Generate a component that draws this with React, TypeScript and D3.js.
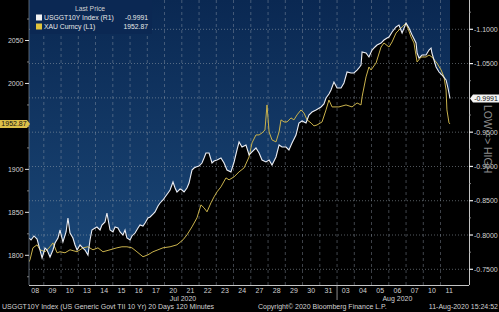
import React from "react";
import * as d3 from "d3";

const W = 499;
const H = 312;

// x positions are in trading-day units (day slot i spans [i, i+1])
const dayLabels = ["08","09","10","13","14","15","16","17","20","21","22","23","24","27","28","29","30","31","03","04","05","06","07","10","11"];
const monthLabels = ["Jul 2020", "Aug 2020"];
const monthStarts = [0, 18];

const leftTicks = [1800, 1850, 1900, 2000, 2050];
const leftMinor = [1775, 1825, 1875, 1925, 1950, 1975, 2025, 2075];
const rightTicks = [-1.1, -1.05, -0.95, -0.9, -0.85, -0.8, -0.75];
const rightGrid = [-1.1, -1.05, -1.0, -0.95, -0.9, -0.85, -0.8, -0.75];
const rightMinor = [-1.125, -1.075, -1.025, -0.975, -0.925, -0.875, -0.825, -0.775];

// USGGT10Y Index (R1)
const whiteT = [0.14,0.26,0.43,0.61,0.78,0.90,1.07,1.19,1.36,1.53,1.65,1.82,1.94,2.11,2.29,2.40,2.52,2.69,2.81,2.93,3.10,3.27,3.39,3.56,3.68,3.79,3.97,4.08,4.26,4.37,4.55,4.66,4.84,5.01,5.13,5.30,5.42,5.59,5.71,5.82,6.00,6.11,6.29,6.46,6.58,6.75,6.87,7.04,7.16,7.33,7.45,7.62,7.74,7.91,8.03,8.20,8.32,8.49,8.61,8.72,8.90,9.01,9.13,9.30,9.42,9.59,9.71,9.82,10.00,10.17,10.29,10.40,10.58,10.75,10.87,11.04,11.27,11.45,11.62,11.85,12.03,12.20,12.32,12.49,12.72,12.90,13.07,13.30,13.48,13.65,13.88,14.06,14.23,14.46,14.64,14.81,15.04,15.21,15.39,15.62,15.79,15.97,16.20,16.37,16.55,16.78,17.07,17.24,17.36,17.53,17.65,17.82,18.00,18.23,18.40,18.58,18.81,18.98,19.16,19.27,19.39,19.45,19.68,19.85,20.03,20.20,20.32,20.55,20.72,20.90,21.01,21.19,21.42,21.59,21.77,22.00,22.17,22.35,22.58,22.64,22.75,22.93,23.16,23.33,23.45,23.50,23.74,23.91,24.08,24.32,24.43,24.55];
const whiteV = [-0.7956,-0.7927,-0.7986,-0.7942,-0.7781,-0.7665,-0.7810,-0.7781,-0.7679,-0.7781,-0.7883,-0.7956,-0.8073,-0.7898,-0.8044,-0.8248,-0.8029,-0.7956,-0.7854,-0.7781,-0.7854,-0.7810,-0.7781,-0.7708,-0.7927,-0.8073,-0.8102,-0.8117,-0.8073,-0.8146,-0.8190,-0.8321,-0.8073,-0.8044,-0.8117,-0.8102,-0.8044,-0.8000,-0.8073,-0.7956,-0.7927,-0.7986,-0.8029,-0.8102,-0.8146,-0.8131,-0.8175,-0.8248,-0.8263,-0.8306,-0.8336,-0.8423,-0.8467,-0.8511,-0.8554,-0.8613,-0.8656,-0.8773,-0.8686,-0.8627,-0.8671,-0.8656,-0.8627,-0.8686,-0.8758,-0.8948,-0.8977,-0.8992,-0.9006,-0.9050,-0.9123,-0.9196,-0.9196,-0.9050,-0.9079,-0.9094,-0.9123,-0.9050,-0.8948,-0.8919,-0.9065,-0.9240,-0.9356,-0.9283,-0.9313,-0.9167,-0.9211,-0.9269,-0.9196,-0.9094,-0.9065,-0.9094,-0.9021,-0.9138,-0.9313,-0.9283,-0.9283,-0.9240,-0.9342,-0.9458,-0.9633,-0.9663,-0.9633,-0.9750,-0.9794,-0.9823,-0.9867,-0.9911,-0.9998,-1.0056,-1.0115,-1.0231,-1.0144,-1.0144,-1.0217,-1.0377,-1.0363,-1.0363,-1.0406,-1.0436,-1.0479,-1.0669,-1.0654,-1.0596,-1.0698,-1.0742,-1.0771,-1.0800,-1.0844,-1.0873,-1.0888,-1.0961,-1.1034,-1.1063,-1.0946,-1.1092,-1.1019,-1.0917,-1.0800,-1.0654,-1.0581,-1.0625,-1.0625,-1.0698,-1.0727,-1.0654,-1.0450,-1.0377,-1.0334,-1.0261,-1.0144,-0.9991];

// XAU Curncy (L1)
const goldT = [0.14,0.20,0.37,0.61,0.78,1.07,1.36,1.53,1.77,1.94,2.23,2.52,2.93,3.27,3.56,3.85,4.14,4.43,4.84,5.24,5.53,5.82,6.11,6.40,6.75,7.04,7.33,7.62,7.91,8.32,8.72,9.07,9.30,9.59,9.88,10.11,10.29,10.46,10.69,10.87,11.04,11.27,11.56,11.74,12.03,12.32,12.61,12.90,13.07,13.30,13.48,13.65,13.82,13.94,14.06,14.23,14.46,14.64,14.75,14.93,15.10,15.33,15.50,15.68,15.91,16.08,16.26,16.49,16.66,16.84,17.13,17.36,17.53,17.71,17.94,18.11,18.52,18.87,19.16,19.39,19.45,19.68,19.85,19.97,20.26,20.55,20.72,21.01,21.19,21.42,21.59,21.77,22.00,22.29,22.46,22.64,22.87,23.16,23.33,23.50,23.79,24.03,24.20,24.32,24.37,24.49,24.55];
const goldV = [1792.4,1794.8,1808.7,1812.2,1806.4,1804.1,1809.9,1814.5,1802.9,1804.1,1802.9,1806.4,1804.1,1808.7,1809.9,1806.4,1808.7,1804.1,1806.4,1808.7,1809.9,1809.9,1808.7,1804.1,1798.3,1800.6,1804.1,1806.4,1808.7,1809.9,1812.2,1818.0,1823.8,1833.1,1843.6,1858.7,1855.2,1850.6,1861.0,1868.0,1873.8,1879.7,1890.1,1887.8,1891.3,1897.1,1901.7,1914.5,1930.8,1940.1,1940.1,1942.4,1945.9,1975.0,1943.6,1934.3,1932.0,1943.6,1957.6,1955.2,1955.2,1959.9,1957.6,1963.4,1969.2,1965.7,1957.6,1954.1,1950.6,1951.7,1955.2,1969.2,1980.8,1972.7,1972.7,1972.7,1975.0,1972.7,1977.3,1975.0,1984.3,2007.6,2019.2,2015.7,2023.8,2042.4,2047.1,2042.4,2048.3,2058.7,2062.2,2065.7,2070.3,2054.1,2047.1,2025.0,2030.8,2030.8,2033.1,2030.8,2023.8,2015.7,2007.6,1992.4,1969.2,1954.1,1952.87];

const legendTitle = "Last Price";
const seriesNames = ["USGGT10Y Index  (R1)", "XAU Curncy  (L1)"];
const footerLeft = "USGGT10Y Index (US Generic Govt TII 10 Yr) 20 Days 120 Minutes";
const footerMid = "Copyright\u00A9 2020 Bloomberg Finance L.P.";
const footerRight = "11-Aug-2020 15:24:52";

export default function App() {
  const PL = 29, PR = 469, PT = 0, PB = 285;
  const x = d3.scaleLinear().domain([0, 25]).range([26.55, 457.8]);
  const yL = d3.scaleLinear().domain([1800, 2050]).range([255.3, 40.5]);
  const yR = d3.scaleLinear().domain([-1.1, -0.75]).range([29.3, 269.3]);

  const idxW = whiteT.map((_, i) => i);
  const idxG = goldT.map((_, i) => i);
  const blueArea = d3.area<number>().x(i => x(whiteT[i])).y0(PT).y1(i => yR(whiteV[i]))(idxW) || "";
  const whiteLine = d3.line<number>().x(i => x(whiteT[i])).y(i => yR(whiteV[i]))(idxW) || "";
  const goldLine = d3.line<number>().x(i => x(goldT[i])).y(i => yL(goldV[i]))(idxG) || "";

  const font = "'Liberation Sans', Arial, sans-serif";
  const txt = "#d2d2d2";
  const lastW = whiteV[whiteV.length - 1];
  const lastG = goldV[goldV.length - 1];
  const yLastW = yR(lastW);
  const yLastG = yL(lastG);

  const boundaries = d3.range(1, 25);

  return (
    <svg width={W} height={H} style={{ position: "absolute", left: 0, top: 0, background: "#000" }} fontFamily={font}>
      <defs>
        <linearGradient id="bg" x1="0" y1="0" x2="0" y2="1">
          <stop offset="0%" stopColor="#0a2852" />
          <stop offset="100%" stopColor="#1a4676" />
        </linearGradient>
        <clipPath id="plot">
          <rect x={PL} y={PT} width={PR - PL} height={PB - PT} />
        </clipPath>
      </defs>
      <rect x={0} y={0} width={W} height={H} fill="#000" />
      <g clipPath="url(#plot)">
        <path d={blueArea} fill="url(#bg)" />
        {rightGrid.map(v => (
          <line key={"hg" + v} x1={PL} x2={PR} y1={yR(v)} y2={yR(v)} stroke="#9aa3ad" strokeWidth={0.7} strokeDasharray="1,2" opacity={0.8} />
        ))}
        {boundaries.map(b => (
          <line key={"vg" + b} x1={x(b)} x2={x(b)} y1={PT} y2={PB} stroke="#8e9aa8" strokeWidth={0.7} strokeDasharray="3,3" opacity={0.65} />
        ))}
        <path d={goldLine} fill="none" stroke="#c9b24c" strokeWidth={1} />
        <path d={whiteLine} fill="none" stroke="#eceef4" strokeWidth={1.1} />
      </g>
      {/* legend */}
      <rect x={PL + 1} y={0} width={122} height={34} fill="#0b2853" />
      <text x={90} y={11} fontSize={6.8} fill={txt} textAnchor="middle">{legendTitle}</text>
      <rect x={36} y={14.5} width={6} height={6} fill="#f2f2f2" />
      <text x={44} y={20.3} fontSize={6.8} fill="#e8e8e8">{seriesNames[0]}</text>
      <text x={148} y={20.3} fontSize={6.8} fill="#e8e8e8" textAnchor="end">{lastW.toFixed(4)}</text>
      <rect x={36} y={23.5} width={6} height={6} fill="#e0c43c" />
      <text x={44} y={29.3} fontSize={6.8} fill="#e8e8e8">{seriesNames[1]}</text>
      <text x={148} y={29.3} fontSize={6.8} fill="#e8e8e8" textAnchor="end">{lastG.toFixed(2)}</text>

      {/* frame */}
      <line x1={PL} x2={PL} y1={PT} y2={PB} stroke="#6d7a88" strokeWidth={0.8} />
      <line x1={PL} x2={PR} y1={PB + 0.5} y2={PB + 0.5} stroke="#c4c4c4" strokeWidth={1} />
      <line x1={PR + 0.5} x2={PR + 0.5} y1={PT} y2={PB} stroke="#c4c4c4" strokeWidth={1} />

      {/* left axis */}
      {leftTicks.map(v => (
        <g key={"lt" + v}>
          <line x1={25} x2={PL} y1={yL(v)} y2={yL(v)} stroke="#e0e0e0" strokeWidth={1} />
          <text x={23.5} y={yL(v) + 2.5} fontSize={7} fill={txt} textAnchor="end">{v}</text>
        </g>
      ))}
      {leftMinor.map(v => (
        <line key={"lm" + v} x1={27} x2={PL} y1={yL(v)} y2={yL(v)} stroke="#9a9a9a" strokeWidth={0.8} />
      ))}
      <path d={`M0,${yLastG - 4}H27L30,${yLastG}L27,${yLastG + 4}H0Z`} fill="#dcc04a" />
      <text x={14} y={yLastG + 2.5} fontSize={7} fill="#111" textAnchor="middle">{lastG.toFixed(2)}</text>

      {/* right axis */}
      {rightTicks.map(v => (
        <g key={"rt" + v}>
          <line x1={PR} x2={PR + 4} y1={yR(v)} y2={yR(v)} stroke="#f0f0f0" strokeWidth={1.2} />
          <text x={474} y={yR(v) + 2.5} fontSize={7} fill={txt}>{v.toFixed(4)}</text>
        </g>
      ))}
      {rightMinor.map(v => (
        <line key={"rm" + v} x1={PR} x2={PR + 2} y1={yR(v)} y2={yR(v)} stroke="#9a9a9a" strokeWidth={0.8} />
      ))}
      <path d={`M470,${yLastW}L473,${yLastW - 4}H499V${yLastW + 4}H473Z`} fill="#f4f4f4" />
      <text x={486} y={yLastW + 2.5} fontSize={7} fill="#111" textAnchor="middle">{lastW.toFixed(4)}</text>
      <text transform={`translate(484,105) rotate(90)`} fontSize={10.5} fill="#8e8e8e">LOW =&gt; HIGH</text>

      {/* x axis */}
      {dayLabels.map((d, i) => (
        <text key={"d" + i} x={x(i + 0.5)} y={292.5} fontSize={7} fill={txt} textAnchor="middle">{d}</text>
      ))}
      {monthLabels.map((m, i) => {
        const s = Math.max(PL, x(monthStarts[i]));
        const e = x(i + 1 < monthStarts.length ? monthStarts[i + 1] : dayLabels.length);
        return <text key={m} x={(s + e) / 2} y={301} fontSize={7} fill={txt} textAnchor="middle">{m}</text>;
      })}
      {monthStarts.slice(1).map(s => (
        <line key={"ms" + s} x1={x(s)} x2={x(s)} y1={PB} y2={300} stroke="#b0b0b0" strokeWidth={0.8} />
      ))}

      {/* footer */}
      <text x={2} y={309} fontSize={7} fill={txt}>{footerLeft}</text>
      <text x={258} y={309} fontSize={7} fill={txt}>{footerMid}</text>
      <text x={498} y={309} fontSize={7} fill={txt} textAnchor="end">{footerRight}</text>
    </svg>
  );
}
